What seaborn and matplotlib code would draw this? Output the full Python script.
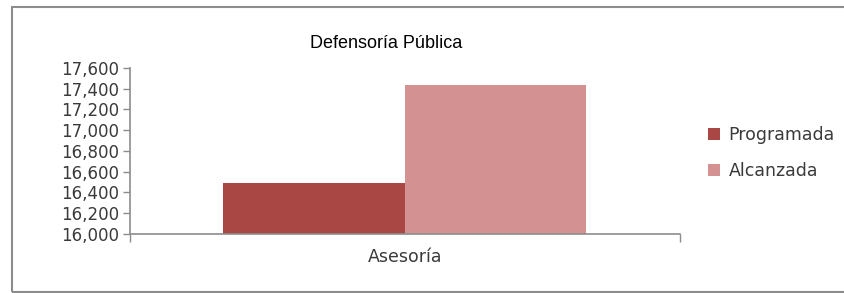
import matplotlib
matplotlib.use("Agg")
import matplotlib.pyplot as plt
import seaborn as sns
import pandas as pd
from matplotlib.patches import Rectangle
from matplotlib.ticker import FuncFormatter, MultipleLocator, FixedLocator

categories = ["Asesoría"]
series = ["Programada", "Alcanzada"]
programada = [16490]
alcanzada = [17440]
colors = ["#A94744", "#D39192"]
title = "Defensoría Pública"

df = pd.DataFrame({
    "cat": categories * 2,
    "serie": [series[0]] * len(categories) + [series[1]] * len(categories),
    "valor": programada + alcanzada,
})

sns.set_theme(style="white")
plt.rcParams["font.family"] = ["DejaVu Sans"]

fig = plt.figure(figsize=(8.45, 2.93), dpi=100)
ax = fig.add_axes([130 / 845, 59 / 293, 550 / 845, 166 / 293])

sns.barplot(data=df, x="cat", y="valor", hue="serie", palette=colors,
            width=0.66, ax=ax, legend=True, saturation=1, linewidth=0)

ax.set_ylim(16000, 17600)
ax.set_xlim(-0.5, 0.5)
ax.yaxis.set_major_locator(MultipleLocator(200))
ax.yaxis.set_major_formatter(FuncFormatter(lambda v, p: f"{int(v):,}"))
ax.set_xlabel("")
ax.set_ylabel("")

for s in ["top", "right"]:
    ax.spines[s].set_visible(False)
for s in ["left", "bottom"]:
    ax.spines[s].set_color("#8c8c8c")
    ax.spines[s].set_linewidth(1.2)

ax.tick_params(axis="y", which="major", direction="out", length=5, width=1,
               color="#8c8c8c", labelsize=12, labelcolor="#3a3a3a", pad=3, left=True)
ax.tick_params(axis="x", which="major", length=0, labelsize=12.5,
               labelcolor="#3a3a3a", pad=10)
ax.xaxis.set_minor_locator(FixedLocator([-0.5, 0.5]))
ax.tick_params(axis="x", which="minor", direction="out", length=6, width=1,
               color="#8c8c8c", bottom=True)

fig.text(386 / 845, 1 - 44 / 293, title, ha="center", va="center",
         fontsize=13, color="black", family="Liberation Sans")

leg = ax.legend(loc="center left", bbox_to_anchor=(562 / 550, 0.488), frameon=False,
                fontsize=12.5, handlelength=0.7, handleheight=0.7,
                labelspacing=1.0, handletextpad=0.5)
for t in leg.get_texts():
    t.set_color("#3a3a3a")

fig.patches.append(Rectangle((12 / 845, 1 / 293), 1.0, 1 - 7.5 / 293,
                             transform=fig.transFigure, fill=False,
                             edgecolor="#8c8c8c", linewidth=1.5))

fig.savefig("out.png", dpi=100)
